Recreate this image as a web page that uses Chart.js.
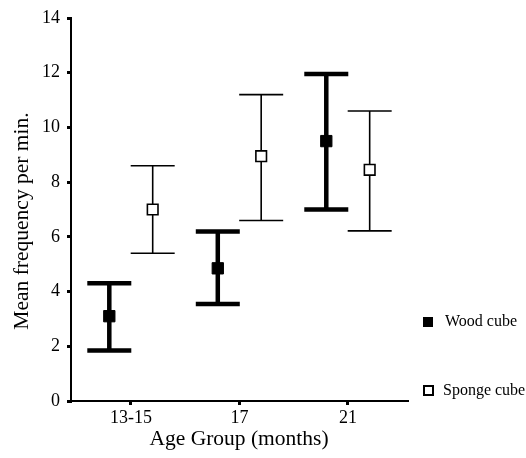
<!DOCTYPE html>
<html>
<head>
<meta charset="utf-8">
<script src="https://cdn.jsdelivr.net/npm/chart.js@4/dist/chart.umd.min.js"></script>
<style>
  html, body { margin: 0; padding: 0; background: #fff; }
  #wrap { width: 526px; height: 458px; position: relative; }
</style>
</head>
<body>
<div id="wrap"><canvas id="chart"></canvas></div>
<script>
// age groups along the x axis
const ageGroups = ['13-15', '17', '21'];

// wood cube: mean and error bar ends
const woodMean = [3.1, 4.85, 9.5];
const woodHigh = [4.3, 6.2, 11.95];
const woodLow = [1.85, 3.55, 7.0];

// sponge cube
const spongeMean = [7.0, 8.95, 8.45];
const spongeHigh = [8.6, 11.2, 10.6];
const spongeLow = [5.4, 6.6, 6.22];

const seriesNames = ['Wood cube', 'Sponge cube'];
const yTitle = 'Mean frequency per min.';

const serif = '"Liberation Serif", "Times New Roman", serif';

function makePoints(mean, low, high, shift) {
  return mean.map((m, i) => ({ x: i + 1 + shift, y: m, lo: low[i], hi: high[i] }));
}

// draws the whiskers and caps under the markers
const errorBars = {
  id: 'errorBars',
  beforeDatasetsDraw(chart) {
    const ctx = chart.ctx;
    const xs = chart.scales.x, ys = chart.scales.y;
    chart.data.datasets.forEach(ds => {
      ctx.save();
      ctx.strokeStyle = '#000';
      ctx.lineWidth = ds.barWidth;
      ds.data.forEach(p => {
        const px = xs.getPixelForValue(p.x);
        const top = ys.getPixelForValue(p.hi);
        const bot = ys.getPixelForValue(p.lo);
        ctx.beginPath();
        ctx.moveTo(px, top);
        ctx.lineTo(px, bot);
        ctx.moveTo(px - 22, top);
        ctx.lineTo(px + 22, top);
        ctx.moveTo(px - 22, bot);
        ctx.lineTo(px + 22, bot);
        ctx.stroke();
      });
      ctx.restore();
    });
  }
};

// legend at the lower right + y title (sits a bit below the axis middle in the original)
const sideLegend = {
  id: 'sideLegend',
  afterDraw(chart) {
    const ctx = chart.ctx;
    ctx.save();
    ctx.font = '16px ' + serif;
    ctx.fillStyle = '#000';
    ctx.textBaseline = 'middle';
    // wood
    ctx.fillRect(423, 317, 10, 10);
    ctx.fillText(seriesNames[0], 445, 322);
    // sponge
    ctx.lineWidth = 2;
    ctx.strokeStyle = '#000';
    ctx.strokeRect(424, 386, 9, 9);
    ctx.fillText(seriesNames[1], 443, 391);

    ctx.translate(22, 221);
    ctx.rotate(-Math.PI / 2);
    ctx.textAlign = 'center';
    ctx.font = '21.5px ' + serif;
    ctx.fillText(yTitle, 0, 0);
    ctx.restore();
  }
};

new Chart(document.getElementById('chart'), {
  type: 'scatter',
  data: {
    datasets: [
      {
        label: seriesNames[0],
        data: makePoints(woodMean, woodLow, woodHigh, -0.2),
        pointStyle: 'rect',
        pointRadius: 8,
        pointHoverRadius: 8,
        backgroundColor: '#000',
        borderColor: '#000',
        borderWidth: 1,
        barWidth: 4.5
      },
      {
        label: seriesNames[1],
        data: makePoints(spongeMean, spongeLow, spongeHigh, 0.2),
        pointStyle: 'rect',
        pointRadius: 7.5,
        pointHoverRadius: 7.5,
        backgroundColor: '#fff',
        borderColor: '#000',
        borderWidth: 1.6,
        barWidth: 1.6
      }
    ]
  },
  options: {
    responsive: true,
    maintainAspectRatio: false,
    animation: false,
    layout: { padding: { top: 18, right: 119, left: 0, bottom: 0 } },
    plugins: {
      legend: { display: false },
      tooltip: { enabled: false }
    },
    scales: {
      x: {
        type: 'linear',
        min: 0.447,
        max: 3.544,
        afterBuildTicks(axis) {
          axis.ticks = ageGroups.map((g, i) => ({ value: i + 1 }));
        },
        afterFit(axis) { axis.height = 57; },
        border: { display: true, color: '#000', width: 2 },
        grid: { drawOnChartArea: false, drawTicks: true, tickLength: 4, color: '#000', lineWidth: 3 },
        ticks: {
          color: '#000',
          font: { family: serif, size: 18 },
          padding: 2,
          callback: v => ageGroups[Math.round(v) - 1]
        },
        title: {
          display: true,
          text: 'Age Group (months)',
          color: '#000',
          font: { family: serif, size: 21.5 },
          padding: { top: 0, bottom: 6 }
        }
      },
      y: {
        min: 0,
        max: 14,
        afterFit(axis) { axis.width = 71; },
        border: { display: true, color: '#000', width: 2 },
        grid: { drawOnChartArea: false, drawTicks: true, tickLength: 4, color: '#000', lineWidth: 3 },
        ticks: {
          stepSize: 2,
          color: '#000',
          font: { family: serif, size: 18 },
          padding: 7
        },
        title: { display: false }
      }
    }
  },
  plugins: [errorBars, sideLegend]
});
</script>
</body>
</html>
